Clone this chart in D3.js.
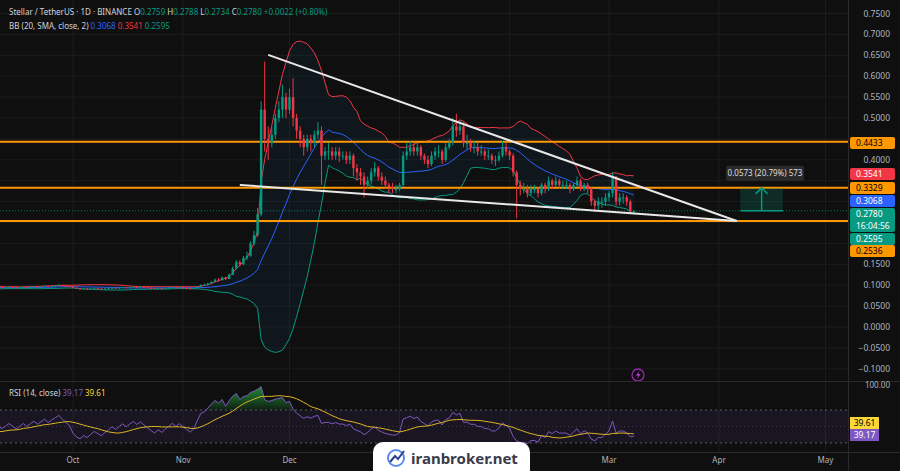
<!DOCTYPE html>
<html><head><meta charset="utf-8">
<script src="https://cdn.jsdelivr.net/npm/d3@7/dist/d3.min.js"></script>
<style>body{margin:0;background:#0f0f0f;}svg{display:block;font-family:"Noto Sans",Roboto,sans-serif;}</style>
</head><body><svg id="c" width="900" height="471"></svg>
<script>
const startDate = "2024-08-10";
const closes = [
0.098,0.097,0.099,0.096,0.095,0.094,0.096,0.097,0.095,0.094,0.093,0.095,0.097,0.098,0.096,0.095,0.094,0.096,0.095,0.093,0.094,0.095,
0.094,0.093,0.092,0.093,0.094,0.093,0.092,0.093,0.094,0.095,0.094,0.095,0.096,0.095,0.094,0.095,0.096,0.095,0.096,0.097,0.096,0.097,0.098,0.097,0.098,0.099,0.100,0.099,0.098,0.097,
0.094,0.092,0.091,0.092,0.091,0.092,0.093,0.092,0.091,0.092,0.093,0.094,0.093,0.094,0.095,0.094,0.095,0.096,0.095,0.096,0.095,0.094,0.093,0.092,0.093,0.092,0.093,0.094,0.095,0.094,0.095,
0.094,0.093,0.092,0.093,0.096,0.100,0.101,0.104,0.108,0.113,0.112,0.118,0.115,0.125,0.140,0.155,0.150,0.165,0.170,0.200,0.220,0.270,0.520,0.450,0.440,0.460,0.500,0.520,0.550,0.520,
0.550,0.500,0.470,0.450,0.430,0.450,0.440,0.460,0.470,0.410,0.420,0.420,0.410,0.420,0.410,0.410,0.400,0.410,0.380,0.370,0.360,0.340,0.350,0.370,0.380,0.360,0.350,0.340,0.335,0.330,0.330,
0.340,0.410,0.420,0.430,0.420,0.430,0.410,0.400,0.390,0.410,0.420,0.420,0.400,0.430,0.440,0.480,0.470,0.480,0.440,0.440,0.430,0.430,0.420,0.420,0.410,0.410,0.400,0.400,0.410,0.430,0.420,
0.410,0.370,0.340,0.330,0.330,0.320,0.330,0.330,0.320,0.340,0.330,0.350,0.340,0.350,0.340,0.340,0.340,0.330,0.340,0.350,0.330,0.340,0.330,0.300,0.290,0.300,0.300,0.310,
0.320,0.360,0.300,0.310,0.310,0.300,0.2759,0.2780];
const highs = [
0.100,0.099,0.100,0.099,0.097,0.096,0.097,0.098,0.098,0.096,0.095,0.096,0.098,0.099,0.099,0.097,0.096,0.097,0.097,0.096,0.095,0.096,
0.096,0.095,0.094,0.094,0.095,0.095,0.094,0.094,0.095,0.096,0.096,0.096,0.097,0.097,0.096,0.096,0.097,0.097,0.097,0.098,0.098,0.098,0.099,0.099,0.099,0.100,0.102,0.101,0.100,0.099,
0.098,0.095,0.093,0.093,0.093,0.093,0.094,0.094,0.093,0.093,0.094,0.095,0.095,0.095,0.096,0.096,0.096,0.097,0.097,0.097,0.097,0.096,0.095,0.094,0.094,0.094,0.094,0.095,0.096,0.096,0.096,
0.096,0.095,0.094,0.094,0.097,0.102,0.104,0.106,0.110,0.116,0.117,0.121,0.120,0.128,0.145,0.160,0.160,0.170,0.180,0.205,0.230,0.285,0.540,0.635,0.480,0.480,0.510,0.540,0.580,0.560,
0.570,0.595,0.510,0.480,0.460,0.460,0.460,0.470,0.490,0.480,0.430,0.440,0.430,0.430,0.430,0.420,0.420,0.420,0.415,0.390,0.380,0.370,0.360,0.380,0.395,0.385,0.370,0.360,0.345,0.345,0.340,
0.345,0.420,0.440,0.445,0.440,0.440,0.435,0.415,0.410,0.420,0.430,0.435,0.425,0.440,0.450,0.500,0.510,0.495,0.490,0.460,0.450,0.445,0.440,0.435,0.425,0.425,0.415,0.410,0.420,0.445,0.440,
0.425,0.415,0.375,0.350,0.345,0.340,0.340,0.340,0.335,0.345,0.345,0.360,0.355,0.360,0.355,0.350,0.350,0.345,0.345,0.360,0.355,0.345,0.345,0.335,0.305,0.310,0.310,0.320,
0.325,0.370,0.360,0.320,0.320,0.315,0.305,0.2788];
const lows = [
0.096,0.096,0.096,0.095,0.094,0.093,0.093,0.095,0.094,0.093,0.092,0.092,0.094,0.096,0.095,0.094,0.093,0.093,0.094,0.092,0.092,0.093,
0.093,0.092,0.091,0.091,0.092,0.092,0.091,0.091,0.092,0.093,0.093,0.093,0.094,0.094,0.093,0.093,0.094,0.094,0.094,0.095,0.095,0.095,0.096,0.096,0.096,0.097,0.098,0.098,0.097,0.096,
0.093,0.091,0.090,0.090,0.090,0.090,0.091,0.091,0.090,0.090,0.091,0.092,0.092,0.092,0.093,0.093,0.093,0.094,0.094,0.094,0.094,0.093,0.092,0.091,0.091,0.091,0.091,0.092,0.093,0.093,0.093,
0.092,0.091,0.090,0.091,0.092,0.095,0.098,0.100,0.103,0.107,0.109,0.111,0.112,0.114,0.124,0.138,0.145,0.148,0.160,0.168,0.195,0.215,0.265,0.420,0.400,0.430,0.450,0.490,0.500,0.500,
0.510,0.480,0.450,0.430,0.410,0.420,0.420,0.430,0.450,0.340,0.400,0.400,0.400,0.400,0.395,0.400,0.390,0.390,0.360,0.350,0.340,0.310,0.330,0.340,0.360,0.350,0.340,0.330,0.320,0.320,0.320,
0.325,0.335,0.400,0.410,0.410,0.410,0.400,0.390,0.380,0.385,0.400,0.405,0.390,0.395,0.425,0.435,0.455,0.460,0.430,0.425,0.420,0.415,0.410,0.410,0.400,0.400,0.390,0.385,0.395,0.405,0.410,
0.400,0.360,0.260,0.315,0.320,0.310,0.315,0.320,0.310,0.315,0.320,0.325,0.330,0.335,0.330,0.330,0.330,0.320,0.325,0.335,0.325,0.325,0.320,0.290,0.275,0.280,0.285,0.290,
0.300,0.310,0.290,0.290,0.295,0.290,0.270,0.2734];
const hLevels = [0.4433, 0.3329, 0.2536];
const priceTicks = [0.75,0.70,0.65,0.60,0.55,0.50,0.40,0.15,0.10,0.05,0.00,-0.05,-0.10];
const priceLabels = [
 {t:"0.4433",c:"#ff9800",tc:"#000"},{t:"0.3541",c:"#f23645",tc:"#fff"},
 {t:"0.3329",c:"#ff9800",tc:"#000"},{t:"0.3068",c:"#2962ff",tc:"#fff"},
 {t:"0.2780",c:"#089981",tc:"#fff",sub:"16:04:56"},{t:"0.2595",c:"#089981",tc:"#fff"},
 {t:"0.2536",c:"#ff9800",tc:"#000"}];
const monthLabels = [["2024-10-01","Oct"],["2024-11-01","Nov"],["2024-12-01","Dec"],["2025-03-01","Mar"],["2025-04-01","Apr"],["2025-05-01","May"]];
const gridMonths = ["2024-10-01","2024-11-01","2024-12-01","2025-01-01","2025-02-01","2025-03-01","2025-04-01","2025-05-01"];
const upperTrend = [["2024-11-25",0.651],["2025-04-06",0.2536]];
const lowerTrend = [["2024-11-17",0.340],["2025-04-06",0.2536]];
const measure = {from:"2025-04-07",to:"2025-04-19",lo:0.2780,hi:0.3329,label:"0.0573 (20.79%) 573"};

const P = d3.timeParse("%Y-%m-%d");
const s0 = P(startDate);
const data = closes.map((c,i)=>({d:d3.timeDay.offset(s0,i),o:i?closes[i-1]:c,h:highs[i],l:lows[i],c}));
data.forEach((d,i)=>{ if(i>=19){const w=closes.slice(i-19,i+1);const m=d3.mean(w);const sd=Math.sqrt(d3.mean(w,v=>(v-m)**2));d.bm=m;d.bu=m+2*sd;d.bl=m-2*sd;} });
let ag=0,al=0;
for(let i=1;i<data.length;i++){const ch=closes[i]-closes[i-1];const g=Math.max(ch,0),l=Math.max(-ch,0);
 if(i<=14){ag+=g/14;al+=l/14;} else {ag=(ag*13+g)/14;al=(al*13+l)/14;}
 if(i>=14) data[i].rsi= al===0?100:100-100/(1+ag/al);}
data.forEach((d,i)=>{ if(i>=27){d.rma=d3.mean(data.slice(i-13,i+1),e=>e.rsi);} });

const svg=d3.select("#c");
const W=848;
svg.append("rect").attr("width",900).attr("height",471).attr("fill","#0f0f0f");
const x=d3.scaleTime().domain([P("2024-10-01"),P("2025-03-01")]).range([73,609]);
const y=d3.scaleLinear().domain([0,0.75]).range([327,13.5]);
const yr=d3.scaleLinear().domain([30,70]).range([443,410]);
svg.append("defs").html(`<clipPath id="cp"><rect x="0" y="0" width="${W}" height="381"/></clipPath><clipPath id="cr"><rect x="0" y="382" width="${W}" height="70"/></clipPath>
<linearGradient id="ob" x1="0" y1="0" x2="0" y2="1"><stop offset="0" stop-color="#22ab3a" stop-opacity="0.8"/><stop offset="1" stop-color="#22ab3a" stop-opacity="0.1"/></linearGradient>`);
const g=svg.append("g");
priceTicks.concat([0.45,0.35,0.30,0.25,0.20]).forEach(v=>g.append("line").attr("x1",0).attr("x2",W).attr("y1",y(v)).attr("y2",y(v)).attr("stroke","#1c1c1c"));
gridMonths.forEach(m=>g.append("line").attr("x1",x(P(m))).attr("x2",x(P(m))).attr("y1",0).attr("y2",452).attr("stroke","#1c1c1c"));
const pc=svg.append("g").attr("clip-path","url(#cp)");
const bb=data.filter(d=>d.bm!==undefined);
pc.append("path").datum(bb).attr("d",d3.area().x(d=>x(d.d)).y0(d=>y(d.bl)).y1(d=>y(d.bu))).attr("fill","rgba(33,150,243,0.06)");
[["bu","#f23645"],["bm","#2962ff"],["bl","#089981"]].forEach(([k,c])=>pc.append("path").datum(bb).attr("d",d3.line().x(d=>x(d.d)).y(d=>y(d[k]))).attr("fill","none").attr("stroke",c).attr("stroke-width",1));
hLevels.forEach(v=>pc.append("line").attr("x1",0).attr("x2",W).attr("y1",y(v)).attr("y2",y(v)).attr("stroke","#ff9800").attr("stroke-width",2));
pc.append("line").attr("x1",0).attr("x2",W).attr("y1",y(0.278)).attr("y2",y(0.278)).attr("stroke","#089981").attr("stroke-dasharray","1,2").attr("opacity",0.7);
const cw=2.4;
const cg=pc.append("g");
data.forEach(d=>{const col=d.c>=d.o?"#089981":"#f23645";const cx=x(d.d);
 cg.append("line").attr("x1",cx).attr("x2",cx).attr("y1",y(d.h)).attr("y2",y(d.l)).attr("stroke",col).attr("stroke-width",1);
 cg.append("rect").attr("x",cx-cw/2).attr("width",cw).attr("y",y(Math.max(d.o,d.c))).attr("height",Math.max(1,Math.abs(y(d.o)-y(d.c)))).attr("fill",col);});
[upperTrend,lowerTrend].forEach(t=>pc.append("line").attr("x1",x(P(t[0][0]))).attr("y1",y(t[0][1])).attr("x2",x(P(t[1][0]))).attr("y2",y(t[1][1])).attr("stroke","#e8e8e8").attr("stroke-width",2));
const mx0=x(P(measure.from)),mx1=x(P(measure.to));
pc.append("rect").attr("x",mx0).attr("y",y(measure.hi)).attr("width",mx1-mx0).attr("height",y(measure.lo)-y(measure.hi)).attr("fill","rgba(8,153,129,0.2)");
pc.append("line").attr("x1",mx0).attr("x2",mx1).attr("y1",y(measure.lo)).attr("y2",y(measure.lo)).attr("stroke","#089981").attr("stroke-width",1.5);
const mc=(mx0+mx1)/2;
pc.append("path").attr("d",`M${mc},${y(measure.lo)}V${y(measure.hi)}M${mc-6},${y(measure.hi)+6}L${mc},${y(measure.hi)}L${mc+6},${y(measure.hi)+6}`).attr("stroke","#089981").attr("stroke-width",1.5).attr("fill","none");
pc.append("rect").attr("x",726).attr("y",y(measure.hi)-22).attr("width",78).attr("height",15).attr("rx",2).attr("fill","#2a2a2a");
pc.append("text").attr("x",765).attr("y",y(measure.hi)-11.5).attr("text-anchor","middle").attr("fill","#ddd").attr("font-size",8).text(measure.label);
svg.append("circle").attr("cx",638).attr("cy",375).attr("r",6).attr("fill","none").attr("stroke","#9c27b0").attr("stroke-width",1.3);
svg.append("path").attr("d","M639.5,371L636,375.5H638.5L636.8,379L640.5,374.3H638Z").attr("fill","#e040fb");
svg.append("line").attr("x1",0).attr("x2",900).attr("y1",381.5).attr("y2",381.5).attr("stroke","#2a2a2a");
svg.append("line").attr("x1",W+0.5).attr("x2",W+0.5).attr("y1",0).attr("y2",471).attr("stroke","#2a2a2a");
svg.append("line").attr("x1",0).attr("x2",900).attr("y1",452.5).attr("y2",452.5).attr("stroke","#2a2a2a");
priceTicks.forEach(v=>svg.append("text").attr("x",890).attr("y",y(v)+3).attr("text-anchor","end").attr("fill","#b2b5be").attr("font-size",8.5).text(v.toFixed(4).replace(/^-/,"−")));
// stacked price labels (collision-avoided, like the chart's axis)
const labelTops=[137,168,182,195,208,233,245];
priceLabels.forEach((l,i)=>{const top=labelTops[i];const h=l.sub?24:12;
 svg.append("rect").attr("x",850).attr("y",top).attr("width",45).attr("height",h).attr("rx",2).attr("fill",l.c);
 svg.append("text").attr("x",856).attr("y",top+9).attr("fill",l.tc).attr("font-size",8.5).text(l.t);
 if(l.sub) svg.append("text").attr("x",856).attr("y",top+21).attr("fill",l.tc).attr("font-size",8.5).text(l.sub);});
const rc=svg.append("g").attr("clip-path","url(#cr)");
rc.append("rect").attr("x",0).attr("width",W).attr("y",yr(70)).attr("height",yr(30)-yr(70)).attr("fill","rgba(126,87,194,0.1)");
[70,30].forEach(v=>rc.append("line").attr("x1",0).attr("x2",W).attr("y1",yr(v)).attr("y2",yr(v)).attr("stroke","#787b86").attr("stroke-dasharray","2,3").attr("opacity",0.7));
rc.append("line").attr("x1",0).attr("x2",W).attr("y1",yr(50)).attr("y2",yr(50)).attr("stroke","#787b86").attr("stroke-dasharray","1,3").attr("opacity",0.35);
const rd=data.filter(d=>d.rsi!==undefined);
rc.append("path").datum(rd).attr("d",d3.area().x(d=>x(d.d)).y0(yr(70)).y1(d=>yr(Math.max(70,d.rsi)))).attr("fill","url(#ob)");
rc.append("path").datum(rd).attr("d",d3.line().x(d=>x(d.d)).y(d=>yr(d.rsi))).attr("fill","none").attr("stroke","#7e57c2").attr("stroke-width",1);
rc.append("path").datum(data.filter(d=>d.rma!==undefined)).attr("d",d3.line().x(d=>x(d.d)).y(d=>yr(d.rma))).attr("fill","none").attr("stroke","#e0b526").attr("stroke-width",1);
svg.append("text").attr("x",890).attr("y",yr(100)+3).attr("text-anchor","end").attr("fill","#b2b5be").attr("font-size",8).text("100.00");
svg.append("rect").attr("x",850).attr("y",417).attr("width",29).attr("height",12).attr("fill","#fdd835");
svg.append("text").attr("x",864.5).attr("y",426).attr("text-anchor","middle").attr("font-size",8.5).attr("fill","#000").text("39.61");
svg.append("rect").attr("x",850).attr("y",429).attr("width",29).attr("height",12).attr("fill","#7e57c2");
svg.append("text").attr("x",864.5).attr("y",438).attr("text-anchor","middle").attr("font-size",8.5).attr("fill","#fff").text("39.17");
const t1=svg.append("text").attr("x",9).attr("y",15).attr("font-size",8).attr("fill","#d1d4dc");
t1.append("tspan").text("Stellar / TetherUS · 1D · BINANCE  ");
[["O","0.2759"],["H","0.2788"],["L","0.2734"],["C","0.2780"]].forEach(([a,b])=>{t1.append("tspan").text(a);t1.append("tspan").attr("fill","#089981").text(b+"  ");});
t1.append("tspan").attr("fill","#089981").text("+0.0022 (+0.80%)");
const t2=svg.append("text").attr("x",9).attr("y",29).attr("font-size",8).attr("fill","#d1d4dc");
t2.append("tspan").text("BB (20, SMA, close, 2)  ");
t2.append("tspan").attr("fill","#2962ff").text("0.3068  ");
t2.append("tspan").attr("fill","#f23645").text("0.3541  ");
t2.append("tspan").attr("fill","#089981").text("0.2595");
const t3=svg.append("text").attr("x",9).attr("y",396).attr("font-size",8).attr("fill","#d1d4dc");
t3.append("tspan").text("RSI (14, close)  ");
t3.append("tspan").attr("fill","#7e57c2").text("39.17  ");
t3.append("tspan").attr("fill","#fdd835").text("39.61");
monthLabels.forEach(m=>svg.append("text").attr("x",x(P(m[0]))).attr("y",463).attr("text-anchor","middle").attr("fill","#b2b5be").attr("font-size",8).text(m[1]));
svg.append("path").attr("d","M373,471V452a10,10 0 0 1 10,-10H520a10,10 0 0 1 10,10V471Z").attr("fill","#fff");
svg.append("circle").attr("cx",396).attr("cy",458).attr("r",8).attr("fill","none").attr("stroke","#5b8def").attr("stroke-width",2);
svg.append("path").attr("d","M390,462L395,456L398,459L404,451").attr("fill","none").attr("stroke","#2a3f8f").attr("stroke-width",2);
svg.append("text").attr("x",411).attr("y",464).attr("font-size",15).attr("font-weight","bold").attr("fill","#3a3a4a").text("iranbroker.net");
</script></body></html>
